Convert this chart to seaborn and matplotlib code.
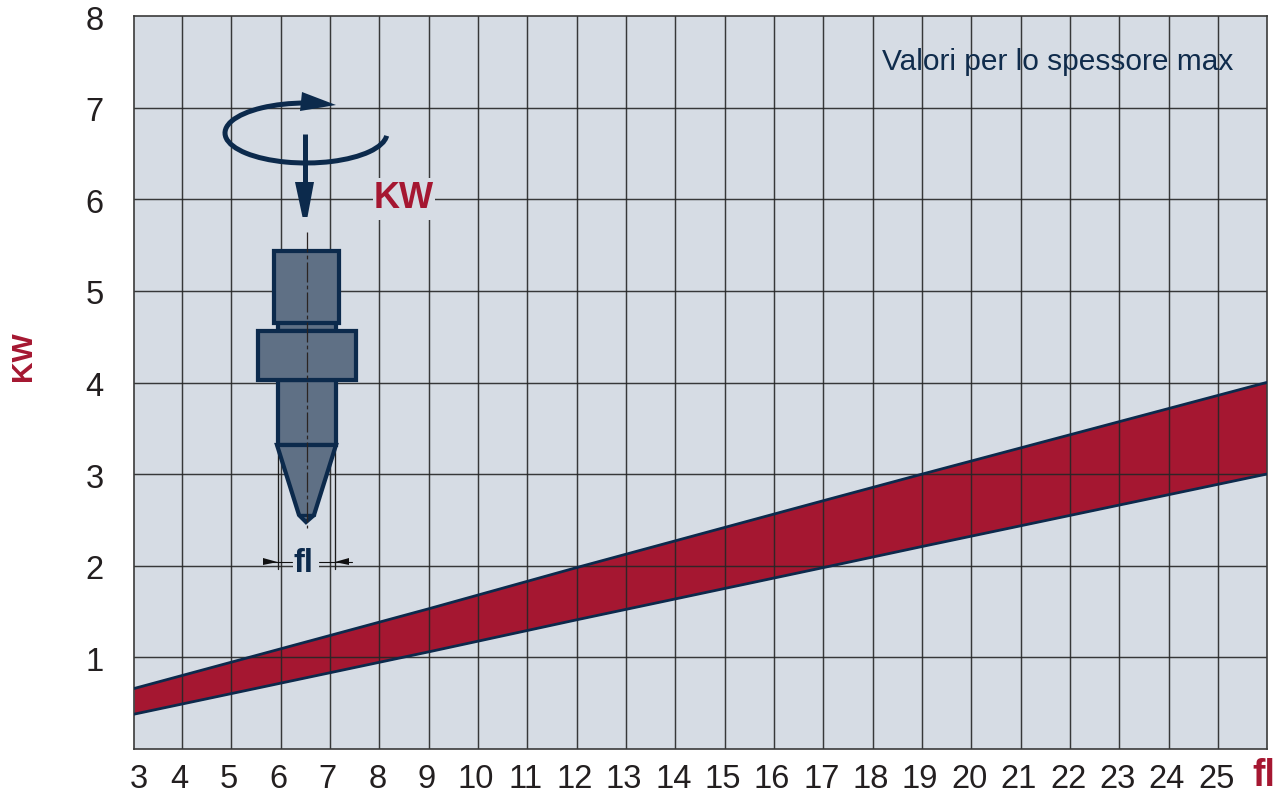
import numpy as np
import pandas as pd
import matplotlib
matplotlib.use("Agg")
import matplotlib.pyplot as plt
from matplotlib.patches import Rectangle, Polygon, Arc
from matplotlib.transforms import ScaledTranslation
import seaborn as sns

# ---- data ----
band_fl = [3.03, 9, 12, 17, 19, 25.98]
band_upper = [0.66, 1.53, 1.98, 2.71, 3.0, 4.0]
band_lower = [0.38, 1.06, 1.41, 1.98, 2.21, 3.0]
x_ticks = list(range(3, 26))
y_ticks = list(range(1, 9))
note = "Valori per lo spessore max"
x_title = "fl"
y_title = "KW"

W, H = 1281, 794
NAVY = "#0c2a4c"
RED = "#a51731"
BG = "#d6dce4"
STEEL = "#5f7085"
INK = "#231f20"

sns.set_theme(style="white")
plt.rcParams["font.family"] = ["Liberation Sans", "DejaVu Sans"]

fig = plt.figure(figsize=(W / 100, H / 100), dpi=100, facecolor="white")
L, R, T, B = 134, 1266.5, 16, 749
ax = fig.add_axes([L / W, 1 - B / H, (R - L) / W, (B - T) / H])
ax.set_facecolor(BG)

df = pd.DataFrame({"fl": band_fl, "upper": band_upper, "lower": band_lower})
ax.fill_between(df["fl"], df["lower"], df["upper"], color=RED, lw=0, zorder=1)
ax.set_axisbelow(False)
for xv in x_ticks[1:]:
    ax.axvline(xv, color="#262626", lw=1.05, alpha=0.9, zorder=2)
for yv in y_ticks[:-1]:
    ax.axhline(yv, color="#262626", lw=1.05, alpha=0.9, zorder=2)
sns.lineplot(data=df, x="fl", y="upper", color=NAVY, lw=2.0, ax=ax, zorder=3, errorbar=None)
sns.lineplot(data=df, x="fl", y="lower", color=NAVY, lw=2.0, ax=ax, zorder=3, errorbar=None)

ax.set_xlim(3.03, 25.98)
ax.set_ylim(0, 8)
ax.set_xlabel("")
ax.set_ylabel("")
ax.set_xticks([3.03] + x_ticks[1:], labels=[str(v) for v in x_ticks])
ax.set_yticks(y_ticks, labels=[str(v) for v in y_ticks])
ax.tick_params(axis="x", length=0, pad=11, labelsize=23.5, labelcolor=INK)
ax.tick_params(axis="y", length=0, pad=22, labelsize=23.5, labelcolor=INK)
for s in ax.spines.values():
    s.set_color("#3a3a3a")
    s.set_linewidth(1.2)
dpi_tr = fig.dpi_scale_trans
for i, lab in enumerate(ax.get_xticklabels()):
    dx = 5 if i == 0 else -2
    lab.set_transform(lab.get_transform() + ScaledTranslation(dx / 100, 0, dpi_tr))
for lab in ax.get_yticklabels():
    lab.set_transform(lab.get_transform() + ScaledTranslation(0, -1.5 / 100, dpi_tr))

# ---- pixel-space overlay for the drill illustration and labels ----
ov = fig.add_axes([0, 0, 1, 1], facecolor="none")
ov.set_xlim(0, W)
ov.set_ylim(H, 0)
ov.axis("off")

px = 100 / 72  # px per pt
lw = 4.2 / px

def rect(x0, y0, x1, y1, z=5, fc=STEEL, ec=NAVY, w=lw):
    ov.add_patch(Rectangle((x0, y0), x1 - x0, y1 - y0, fc=fc, ec=ec, lw=w, zorder=z, joinstyle="miter"))

# label backgrounds interrupting the grid
ov.add_patch(Rectangle((373, 178), 62, 42, fc=BG, ec="none", zorder=4))
ov.add_patch(Rectangle((293, 550), 26, 24, fc=BG, ec="none", zorder=4))

# body
rect(277.5, 322, 335.5, 331, z=5)
rect(274, 251, 339, 322.5, z=6)
rect(257.5, 331, 355.5, 380, z=6)
rect(277.5, 380, 335.5, 445, z=5)
ov.add_patch(Polygon([(277, 445), (299, 515), (306, 522), (314, 515), (336, 445)],
                     closed=True, fc=STEEL, ec=NAVY, lw=lw, zorder=5, joinstyle="miter"))
ov.plot([299, 314], [515, 515], color=NAVY, lw=lw * 0.8, zorder=6)

# centre line
ov.plot([306.5, 306.5], [232, 528], color="#2b2422", lw=0.9, zorder=7,
        dashes=(16, 2.5, 3, 2.5))

# rotation arrow
ov.add_patch(Arc((306, 133), 162, 60, angle=0, theta1=2, theta2=270,
                 color=NAVY, lw=5 / px, zorder=8))
ov.add_patch(Polygon([(302, 92), (336, 105), (300, 111)], closed=True, fc=NAVY, ec="none", zorder=8))

# feed arrow
ov.plot([305, 305], [134, 185], color=NAVY, lw=5 / px, zorder=8, solid_capstyle="butt")
ov.add_patch(Polygon([(295, 182), (314, 182), (307.5, 217), (302.5, 217)], closed=True,
                     fc=NAVY, ec="none", zorder=8))

# dimension for fl
for xv in (277.5, 334.8):
    ov.plot([xv, xv], [445, 569], color="#1c1c1c", lw=0.95, zorder=4.5)
ov.plot([263, 292], [562, 562], color="#111", lw=0.8, zorder=5)
ov.plot([319, 352], [562, 562], color="#111", lw=0.8, zorder=5)
ov.add_patch(Polygon([(263, 558), (277.5, 562), (263, 565)], closed=True, fc="#111", ec="none", zorder=5))
ov.add_patch(Polygon([(334.8, 562), (349, 558), (349, 565)], closed=True, fc="#111", ec="none", zorder=5))

# texts
ov.text(303, 564, x_title, color=NAVY, fontsize=23.5, fontweight="bold", ha="center", va="center", zorder=9)
ov.text(404, 198, y_title, color=RED, fontsize=26, fontweight="bold", ha="center", va="center", zorder=9)
ov.text(1058, 62, note, color="#102c4c", fontsize=21.5, ha="center", va="center", zorder=9)
ov.text(23, 356, y_title, color=RED, fontsize=21.5, fontweight="bold", rotation=90, ha="center", va="center")
ov.text(1264, 776, x_title, color=RED, fontsize=27, fontweight="bold", ha="center", va="center")

fig.savefig("out.png", dpi=100, facecolor="white")
